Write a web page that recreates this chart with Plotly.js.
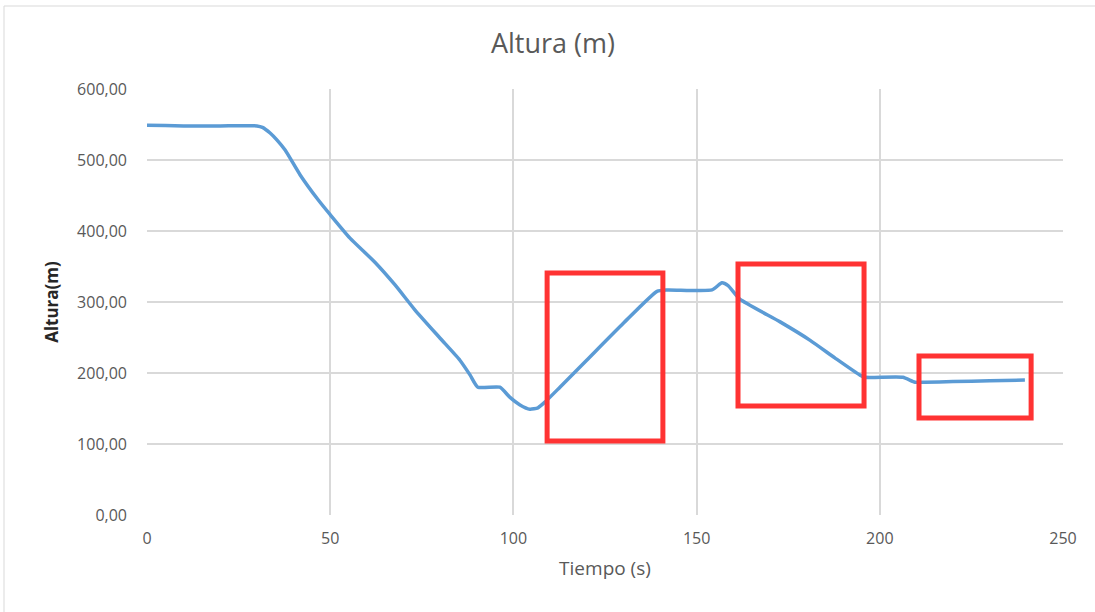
<!DOCTYPE html>
<html>
<head>
<meta charset="utf-8">
<script src="https://cdn.plot.ly/plotly-3.0.1.min.js"></script>
<style>html,body{margin:0;padding:0;background:#fff;}#chart{width:1095px;height:612px;}</style>
</head>
<body>
<div id="chart"></div>
<script>
const tiempo = [0, 5, 10, 20, 30, 31.5, 33.6, 35.5, 37.7, 41.8, 46.7, 50, 55.4, 62.2, 67.7, 73.1, 80, 85.4, 88.2, 90.3, 96.3, 99, 101.8, 104.5, 106.7, 108.6, 112.7, 120, 130, 139.2, 142, 154.2, 156.9, 158.6, 161.8, 172.8, 181, 187.8, 194.6, 196, 206.3, 209.6, 212.3, 220, 230, 239.6];
const altura = [549, 548.5, 548, 548, 548, 546, 538, 528, 514, 479, 444, 423, 390, 356, 324, 289, 249, 218, 197, 180, 180, 166, 155, 149, 151, 159, 180, 218, 270, 315, 317, 317, 327, 323, 304, 272, 246, 221, 197, 194, 194, 187, 187, 188, 189, 190];
const xTicks = [0, 50, 100, 150, 200, 250];
const yTicks = [0, 100, 200, 300, 400, 500, 600];
const boxes = [[109.2, 140.8, 104.2, 340.8], [161.3, 195.7, 153.5, 353.5], [210.7, 241.3, 136.6, 223.9]];

const font = "'Open Sans', sans-serif";
const shapes = boxes.map(b => ({type: 'rect', xref: 'x', yref: 'y', x0: b[0], x1: b[1], y0: b[2], y1: b[3], line: {color: '#ff3333', width: 5}, fillcolor: 'rgba(0,0,0,0)'}));
shapes.push({type: 'rect', xref: 'paper', yref: 'paper', x0: (4-147)/916, x1: (1100-147)/916, y0: (515-630)/426, y1: (515-6)/426, line: {color: '#d9d9d9', width: 1}, layer: 'below'});

Plotly.newPlot('chart', [{
  x: tiempo, y: altura, type: 'scatter', mode: 'lines',
  line: {color: '#5b9bd5', width: 3.5, shape: 'spline', smoothing: 0.5},
  hoverinfo: 'x+y'
}], {
  width: 1095, height: 612,
  margin: {l: 147, r: 32, t: 89, b: 97},
  paper_bgcolor: '#fff', plot_bgcolor: '#fff',
  separators: ',.',
  showlegend: false,
  title: {text: 'Altura (m)', font: {family: font, size: 27, color: '#595959'}, x: 553/1095, xref: 'container', xanchor: 'center', y: 1-44/612, yref: 'container', yanchor: 'middle'},
  xaxis: {range: [0, 250], tickvals: xTicks, ticktext: xTicks.map(String), showgrid: true, gridcolor: '#d9d9d9', gridwidth: 2, zeroline: false, showline: false, ticks: '', ticklabelstandoff: 12, tickfont: {family: font, size: 16, color: '#595959'},
    title: {text: 'Tiempo (s)', font: {family: font, size: 19, color: '#595959'}, standoff: 13}},
  yaxis: {range: [0, 600], tickvals: yTicks, tickformat: '.2f', showgrid: true, gridcolor: '#d9d9d9', gridwidth: 2, zeroline: false, showline: false, ticks: '', ticklabelstandoff: 19, tickfont: {family: font, size: 16, color: '#595959'},
    title: {text: '<b>Altura(m)</b>', font: {family: font, size: 17, color: '#262626'}, standoff: 14}},
  shapes: shapes
}, {displayModeBar: false});
</script>
</body>
</html>
